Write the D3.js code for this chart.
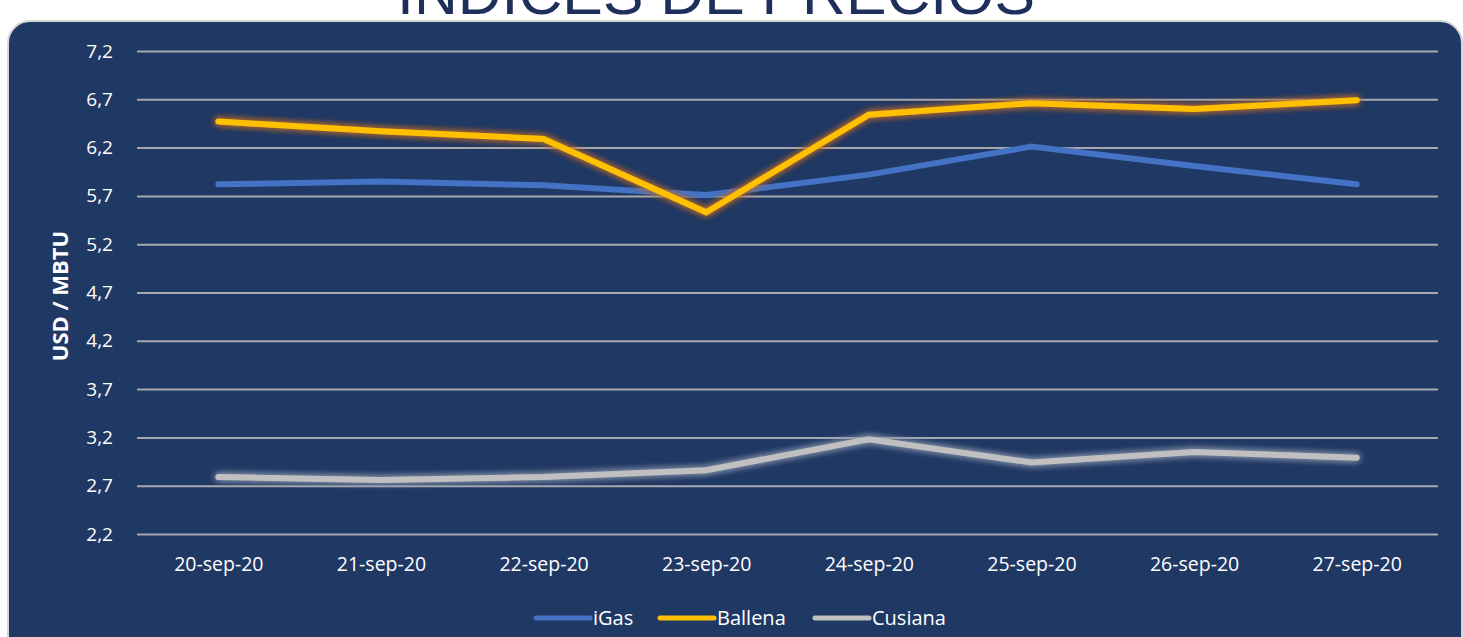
<!DOCTYPE html>
<html><head><meta charset="utf-8">
<script src="https://cdn.jsdelivr.net/npm/d3@7"></script>
<style>html,body{margin:0;padding:0;background:#fff;overflow:hidden}</style>
</head><body>
<svg id="c" width="1463" height="637"></svg>
<script>
const categories = ["20-sep-20","21-sep-20","22-sep-20","23-sep-20","24-sep-20","25-sep-20","26-sep-20","27-sep-20"];
const iGas    = [5.82, 5.85, 5.81, 5.71, 5.92, 6.21, 6.01, 5.82];
const ballena = [6.47, 6.37, 6.29, 5.53, 6.54, 6.66, 6.60, 6.69];
const cusiana = [2.79, 2.76, 2.79, 2.86, 3.18, 2.94, 3.05, 2.99];
const yTicks  = [2.2, 2.7, 3.2, 3.7, 4.2, 4.7, 5.2, 5.7, 6.2, 6.7, 7.2];
const seriesNames = ["iGas", "Ballena", "Cusiana"];

const svg = d3.select("#c");
const font = "'Open Sans', 'Noto Sans', sans-serif";
const defs = svg.append("defs");
const glow = (id, color, dev) => {
  const f = defs.append("filter").attr("id", id).attr("x","-10%").attr("y","-50%").attr("width","120%").attr("height","200%");
  f.append("feGaussianBlur").attr("in","SourceAlpha").attr("stdDeviation",dev).attr("result","b");
  f.append("feFlood").attr("flood-color",color).attr("result","c");
  f.append("feComposite").attr("in","c").attr("in2","b").attr("operator","in").attr("result","g");
  const m = f.append("feMerge");
  m.append("feMergeNode").attr("in","g");
  m.append("feMergeNode").attr("in","g");
  m.append("feMergeNode").attr("in","SourceGraphic");
};
glow("glowY", "#b8682a", 3.5);
glow("glowG", "#8793aa", 3.5);

// title (cut off at top)
svg.append("text").attr("x", 716).attr("y", 14).attr("text-anchor","middle")
  .attr("font-family","'Liberation Sans', Arial, sans-serif").attr("font-size", 60)
  .attr("fill","#1f2f5c").attr("textLength", 638).attr("lengthAdjust","spacingAndGlyphs")
  .text("INDICES DE PRECIOS");

// panel
svg.append("rect").attr("x", 8).attr("y", 21).attr("width", 1454).attr("height", 660)
  .attr("rx", 22).attr("fill", "#203864").attr("stroke", "#d6d6d6").attr("stroke-width", 2);

const x = d3.scalePoint().domain(categories).range([137, 1438]).padding(0.5);
const y = d3.scaleLinear().domain([2.2, 7.2]).range([534, 51]);

// grid
const gy = svg.append("g").attr("transform","translate(137,0)")
  .call(d3.axisLeft(y).tickValues(yTicks).tickSize(-1301).tickPadding(24)
    .tickFormat(d => d3.format(".1f")(d).replace(".", ",")));
gy.select(".domain").remove();
gy.selectAll(".tick line").attr("stroke", "#a9a9ad").attr("stroke-width", 2);
gy.selectAll(".tick text").attr("fill","#fff").attr("font-family",font).attr("font-size",19);

// x axis labels
const gx = svg.append("g").attr("transform","translate(0,534)")
  .call(d3.axisBottom(x).tickSize(0).tickPadding(23));
gx.select(".domain").remove();
gx.selectAll(".tick text").attr("fill","#fff").attr("font-family",font).attr("font-size",19.5);

// y axis title
svg.append("text").attr("transform","translate(68,296) rotate(-90)").attr("text-anchor","middle")
  .attr("font-family",font).attr("font-weight",700).attr("font-size",22).attr("fill","#fff")
  .text("USD / MBTU");

const line = d3.line().x((d,i) => x(categories[i])).y(d => y(d));
const draw = (data, color, filter) => {
  const p = svg.append("path").attr("d", line(data)).attr("fill","none").attr("stroke",color)
    .attr("stroke-width",6).attr("stroke-linecap","round").attr("stroke-linejoin","miter");
  if (filter) p.attr("filter", `url(#${filter})`);
};
draw(cusiana, "#c0c0c0", "glowG");
draw(iGas, "#4472c4", null);
draw(ballena, "#ffc000", "glowY");

// legend
const legendColors = ["#4472c4", "#ffc000", "#c0c0c0"];
const legendX = [536, 660, 815];
seriesNames.forEach((n, i) => {
  svg.append("line").attr("x1", legendX[i]).attr("x2", legendX[i] + 54).attr("y1", 618).attr("y2", 618)
    .attr("stroke", legendColors[i]).attr("stroke-width", 5).attr("stroke-linecap","round");
  svg.append("text").attr("x", legendX[i] + 57).attr("y", 625).attr("font-family",font)
    .attr("font-size",20).attr("fill","#fff").text(n);
});
</script>
</body></html>
